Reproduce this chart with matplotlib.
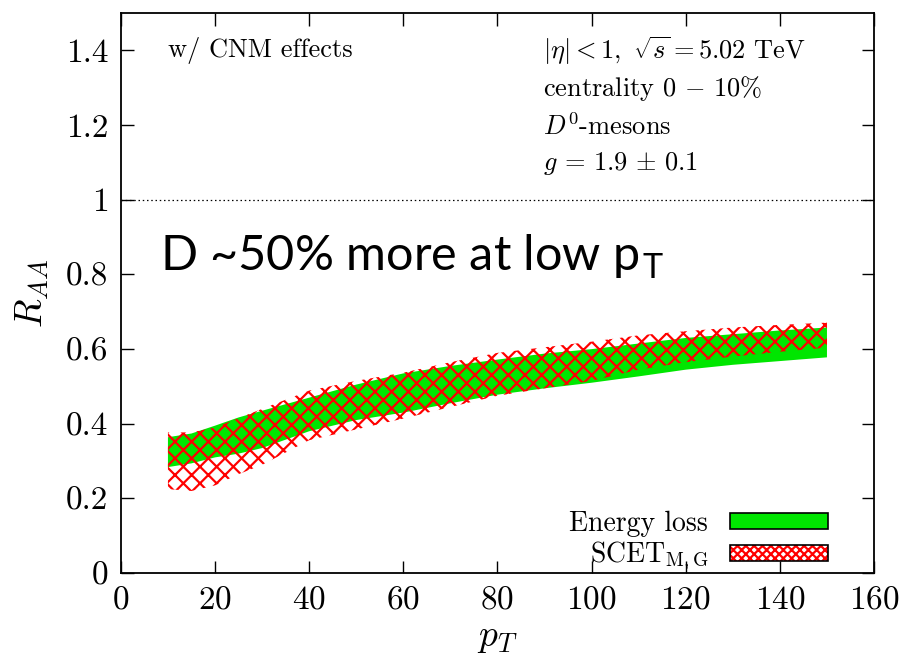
import numpy as np
import matplotlib
matplotlib.use("Agg")
import matplotlib.pyplot as plt
from matplotlib.patches import Patch
from matplotlib.ticker import FuncFormatter

plt.rcParams["font.family"] = "cmr10"
plt.rcParams["mathtext.fontset"] = "cm"
plt.rcParams["axes.unicode_minus"] = False
plt.rcParams["axes.formatter.use_mathtext"] = True
plt.rcParams["hatch.linewidth"] = 1.6

# D0 R_AA bands vs pT (0-10%, 5.02 TeV)
pt = [10, 15, 20, 25, 30, 40, 50, 60, 70, 80, 90, 100, 110, 120, 130, 140, 150]
eloss_lo = [0.284, 0.294, 0.310, 0.320, 0.335, 0.380, 0.410, 0.430, 0.455, 0.478,
            0.495, 0.510, 0.527, 0.545, 0.558, 0.568, 0.578]
eloss_hi = [0.364, 0.374, 0.395, 0.417, 0.435, 0.470, 0.505, 0.535, 0.555, 0.572,
            0.588, 0.600, 0.615, 0.630, 0.640, 0.650, 0.658]
scet_lo = [0.225, 0.220, 0.235, 0.265, 0.290, 0.356, 0.385, 0.414, 0.445, 0.475,
           0.495, 0.515, 0.545, 0.565, 0.580, 0.593, 0.604]
scet_hi = [0.377, 0.377, 0.390, 0.415, 0.440, 0.489, 0.515, 0.537, 0.565, 0.590,
           0.605, 0.620, 0.637, 0.648, 0.658, 0.665, 0.671]

xticks = [0, 20, 40, 60, 80, 100, 120, 140, 160]
yticks = [0, 0.2, 0.4, 0.6, 0.8, 1.0, 1.2, 1.4]
labels = ["Energy loss", r"SCET$_{\mathrm{M,G}}$"]

GREEN = "#00e600"

fig = plt.figure(figsize=(9.02, 6.58), dpi=100)
ax = fig.add_axes([0.134, 0.129, 0.835, 0.851])

ax.fill_between(pt, eloss_lo, eloss_hi, facecolor=GREEN, edgecolor="none", lw=0, zorder=2)
ax.fill_between(pt, scet_lo, scet_hi, facecolor="none", edgecolor="red", hatch="xx",
                lw=0, zorder=3)
ax.axhline(1.0, color="black", ls=(0, (1.2, 2.2)), lw=0.9, zorder=1)

ax.set_xlim(0, 160)
ax.set_ylim(0, 1.5)
ax.set_xticks(xticks)
ax.set_yticks(yticks)
ax.yaxis.set_major_formatter(FuncFormatter(lambda v, p: f"{v:g}"))
ax.tick_params(direction="in", length=9, width=1.0, top=True, right=True,
               labelsize=24, pad=9)
for sp in ax.spines.values():
    sp.set_linewidth(1.3)

ax.set_xlabel(r"$p_T$", fontsize=27, labelpad=5)
ax.set_ylabel(r"$R_{AA}$", fontsize=27, labelpad=11)

fs = 19
ax.text(10, 1.4, "w/ CNM effects", fontsize=fs, va="center")
ax.text(89.7, 1.4, r"$|\eta|<1,\ \sqrt{s}=5.02$ TeV", fontsize=fs, va="center")
ax.text(89.7, 1.297, r"centrality $0\,-\,10\%$", fontsize=fs, va="center")
ax.text(89.7, 1.195, r"$D^0$-mesons", fontsize=fs, va="center")
ax.text(89.7, 1.096, r"$g\,=\,1.9\,\pm\,0.1$", fontsize=fs, va="center")

ax.text(8.3, 0.81, r"D ~50% more at low p$_\mathregular{T}$", fontsize=35,
        family="Lato", va="baseline")

h_eloss = Patch(facecolor=GREEN, edgecolor="black", lw=1.2)
h_scet = (Patch(facecolor="white", edgecolor="red", hatch="xxxx", lw=0),
          Patch(facecolor="none", edgecolor="black", lw=1.2))
ax.legend([h_eloss, h_scet], labels, loc="lower right", bbox_to_anchor=(0.968, -0.04),
          frameon=False, markerfirst=False, fontsize=20, handlelength=3.5,
          handleheight=0.5, labelspacing=0.12, handletextpad=0.8, borderpad=0.3)

fig.savefig("out.png", dpi=100)
